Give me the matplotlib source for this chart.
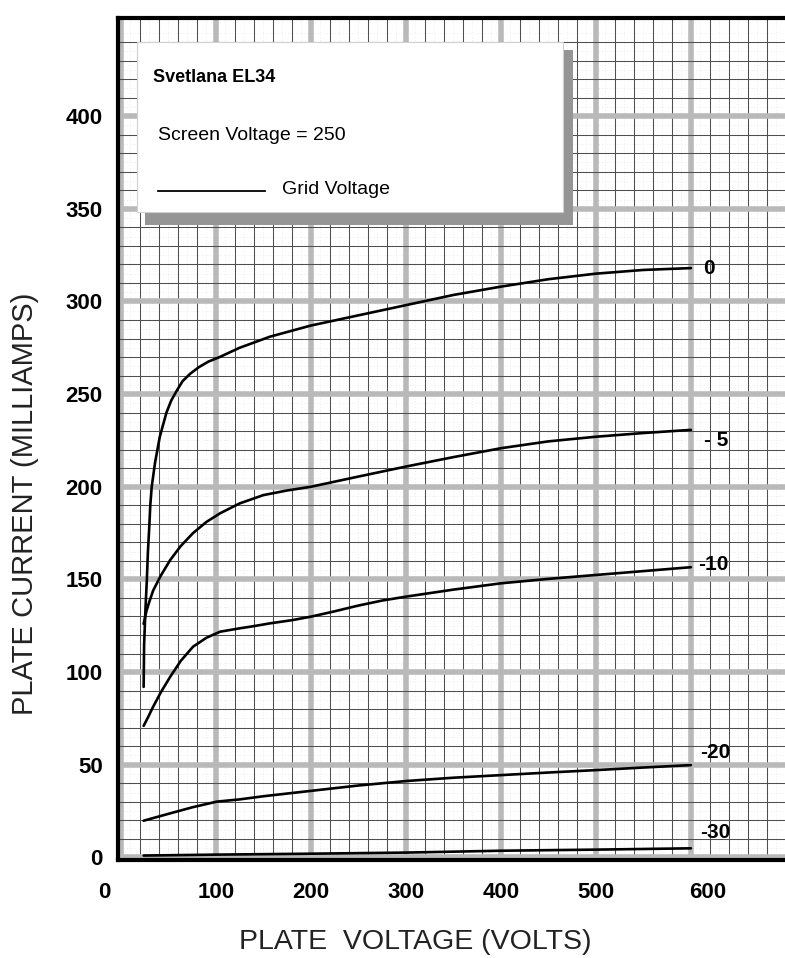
import numpy as np
import matplotlib
matplotlib.use('Agg')
import matplotlib.pyplot as plt
from matplotlib.patches import Rectangle
from matplotlib.lines import Line2D
from matplotlib.transforms import ScaledTranslation

# Svetlana EL34 plate curves, screen voltage 250 V
v_g0 = [24, 24.5, 26, 27.4, 28.5, 29.8, 31, 32.5, 36, 41, 48, 53, 59, 65, 73, 82, 92, 104,
        125, 157, 200, 250, 300, 350, 400, 450, 500, 550, 600]
i_g0 = [92, 115, 135, 150, 165, 177, 190, 200, 213, 227, 240, 246.5, 252, 257, 261, 264.5,
        267.5, 270, 275, 281, 287, 292.5, 298, 303.5, 308, 312, 315, 317, 318]

v_g5 = [24, 27, 30, 34, 42, 52, 63, 76, 90, 104.5, 125, 150, 175, 200, 250, 300, 350, 400,
        450, 500, 550, 600]
i_g5 = [126, 133, 138, 144, 152, 160.5, 168, 175, 181, 185.7, 191, 195.5, 198, 200, 205.5,
        210.9, 216, 220.8, 224.5, 227, 229, 230.7]

v_g10 = [24, 29, 34, 42, 52, 63, 76, 90, 104.5, 125, 140, 157, 180, 200, 225, 250, 275, 300,
         350, 400, 450, 500, 550, 600]
i_g10 = [71, 76, 81.3, 89, 97.5, 106, 113.7, 118.5, 121.8, 123.6, 124.8, 126.3, 128, 129.9,
         132.8, 135.9, 138.6, 140.7, 144.5, 147.9, 150.3, 152.4, 154.5, 156.6]

v_g20 = [24, 50, 75, 101, 125, 150, 200, 250, 300, 350, 400, 450, 500, 550, 600]
i_g20 = [19.8, 23.5, 27, 30.1, 31.3, 33, 35.9, 38.8, 41.2, 43, 44.4, 45.8, 47.1, 48.5, 49.8]

v_g30 = [24, 100, 200, 300, 400, 500, 600]
i_g30 = [1.0, 1.5, 2.0, 2.6, 3.6, 4.2, 4.9]

curve_labels = ['0', '- 5', '-10', '-20', '-30']
x_ticks = [0, 100, 200, 300, 400, 500, 600]
y_ticks = [0, 50, 100, 150, 200, 250, 300, 350, 400]

fig = plt.figure(figsize=(7.85, 9.58), dpi=100)
ax = fig.add_axes([0.1503, 0.1023, 0.8497, 0.879])
ax.set_xlim(-3, 699)
ax.set_ylim(-1.4, 453)

# graph paper: faint dotted lines, dark minor lines, thick gray major lines
for xv in np.arange(10, 700, 20):
    ax.axvline(xv, color='#dedede', lw=0.5, ls=(0, (1, 3)), zorder=0.2)
for yv in np.arange(5, 453, 10):
    ax.axhline(yv, color='#dedede', lw=0.5, ls=(0, (1, 3)), zorder=0.2)

ax.set_xticks(x_ticks)
ax.set_yticks(y_ticks)
ax.set_xticks(np.arange(0, 700, 20), minor=True)
ax.set_yticks(np.arange(0, 450, 10), minor=True)
ax.grid(which='minor', color='#4f4f4f', lw=0.75, zorder=0.3)
ax.grid(which='major', color='#b9b9b9', lw=4.0, zorder=0.4)
ax.set_axisbelow(True)

ax.tick_params(which='both', length=0)
ax.tick_params(axis='y', pad=11)
ax.tick_params(axis='x', pad=16)
ax.set_xticklabels([str(t) for t in x_ticks], fontfamily='Liberation Sans',
                   fontweight='bold', fontsize=16)
ax.set_yticklabels([str(t) for t in y_ticks], fontfamily='Liberation Sans',
                   fontweight='bold', fontsize=16)
xl = ax.get_xticklabels()
xl[0].set_transform(xl[0].get_transform() + ScaledTranslation(-17 / 100, 0, fig.dpi_scale_trans))
xl[-1].set_transform(xl[-1].get_transform() + ScaledTranslation(17 / 100, 0, fig.dpi_scale_trans))

for s in ['left', 'bottom', 'top']:
    ax.spines[s].set_linewidth(3)
    ax.spines[s].set_color('black')
ax.spines['right'].set_visible(False)

curves = [(v_g0, i_g0), (v_g5, i_g5), (v_g10, i_g10), (v_g20, i_g20), (v_g30, i_g30)]
for v, i in curves:
    ax.plot(v, i, color='black', lw=1.9, zorder=3, solid_capstyle='round',
            solid_joinstyle='round')

# curve labels just right of the 600 V line
label_dy = [0, -5.5, 1.3, 6.6, 8.3]
label_dx = [13, 14, 8, 10, 10]
for (v, i), lab, dx, dy in zip(curves, curve_labels, label_dx, label_dy):
    ax.text(v[-1] + dx, i[-1] + dy, lab, ha='left', va='center', fontsize=15,
            fontweight='bold', fontfamily='Liberation Sans', zorder=4)

# legend box with drop shadow
ax.add_patch(Rectangle((0.0405, 0.754), 0.6415, 0.208, transform=ax.transAxes,
                       facecolor='#959595', edgecolor='none', zorder=5))
ax.add_patch(Rectangle((0.0285, 0.7696), 0.6385, 0.2019, transform=ax.transAxes,
                       facecolor='white', edgecolor='#d0d0d0', lw=0.8, zorder=6))
ax.text(0.0525, 0.9287, 'Svetlana EL34', transform=ax.transAxes, fontsize=13,
        fontweight='bold', fontfamily='Liberation Sans', va='center', ha='left', zorder=7)
ax.text(0.06, 0.86, 'Screen Voltage = 250', transform=ax.transAxes, fontsize=14,
        fontfamily='Liberation Sans', va='center', ha='left', zorder=7)
ax.add_line(Line2D([0.06, 0.2204], [0.7945, 0.7945], transform=ax.transAxes,
                   color='black', lw=1.3, zorder=7))
ax.text(0.246, 0.7957, 'Grid Voltage', transform=ax.transAxes, fontsize=14,
        fontfamily='Liberation Sans', va='center', ha='left', zorder=7)

fig.text(0.5287, 0.0167, 'PLATE  VOLTAGE (VOLTS)', ha='center', va='center',
         fontsize=20.5, fontfamily='Liberation Sans', color='#222222')
fig.text(0.0318, 0.4739, 'PLATE CURRENT (MILLIAMPS)', ha='center', va='center',
         rotation=90, fontsize=21, fontfamily='Liberation Sans', color='#222222')

fig.savefig('out.png', dpi=100)
